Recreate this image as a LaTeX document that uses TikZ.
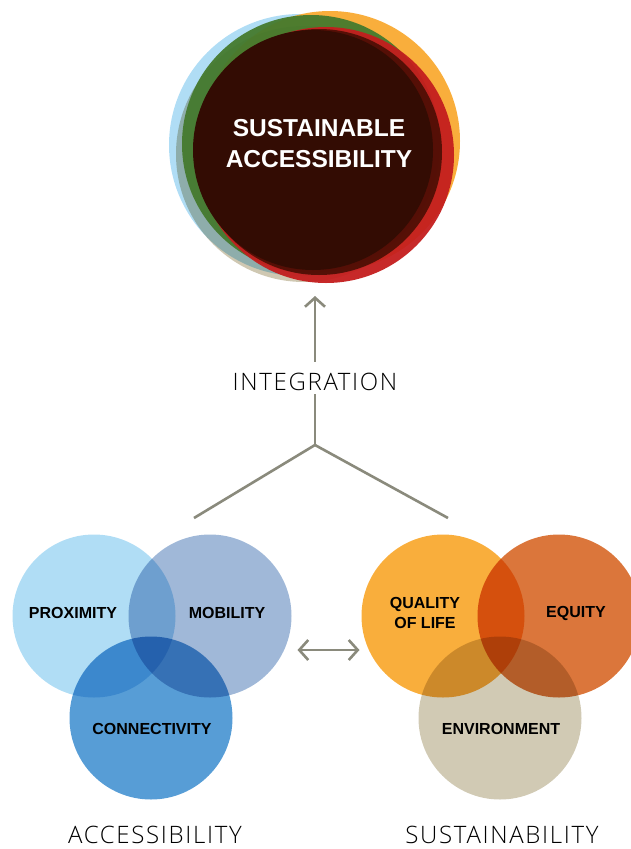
\documentclass[tikz,border=0pt]{standalone}
\usepackage{fontspec}
\setmainfont{Fira Sans}[UprightFont=* Light, BoldFont=* SemiBold]
\IfFontExistsTF{Open Sans Light}
  {\newfontfamily\lightf{Open Sans Light}[LetterSpace=7]}
  {\newfontfamily\lightf{Fira Sans Light}[LetterSpace=10]}
\newfontfamily\headf{Liberation Sans}[BoldFont=* Bold]
\usetikzlibrary{arrows.meta,calc}
\definecolor{cProx}{HTML}{B0DDF5}
\definecolor{cMob}{HTML}{A0B8D8}
\definecolor{cCon}{HTML}{579DD6}
\definecolor{cQol}{HTML}{F9AE3C}
\definecolor{cEq}{HTML}{DB763B}
\definecolor{cEnv}{HTML}{D1CAB4}
\definecolor{cLine}{HTML}{8A8A7C}
\definecolor{cDark}{HTML}{330C03}
\definecolor{cDark2}{HTML}{4A0E04}
\definecolor{cGreen}{HTML}{457A2E}
\definecolor{cRed}{HTML}{C41E1E}
\definecolor{cOrange}{HTML}{F9AE3C}
\definecolor{cBlue}{HTML}{B0DDF5}
\definecolor{cBeige}{HTML}{CFC8B2}
\tikzset{
  venn/.style={circle, minimum size=163pt, inner sep=0pt, outer sep=0pt},
  lbl/.style={font=\headf\bfseries\fontsize{16}{19.5}\selectfont, text=black, align=center},
  big/.style={font=\lightf\fontsize{24}{28}\selectfont, text=black},
  conn/.style={draw=cLine, line width=2.6pt},
  tip/.style={-{Straight Barb[length=9pt,width=20pt,line width=2.6pt]}},
}
\begin{document}
\begin{tikzpicture}[x=1pt,y=-1pt]
\useasboundingbox (0,0) rectangle (631,849);
% top cluster
\fill[cBlue] (300,145) circle (131);
\fill[cOrange] (330,141) circle (130);
\fill[cBeige, blend mode=multiply] (304,154) circle (128);
\fill[cGreen, opacity=0.95] (311,144) circle (129);
\fill[cRed, opacity=0.95] (326,155) circle (128);
\fill[cDark2, opacity=0.9] (319,152) circle (123);
\node[circle, fill=cDark, minimum size=240pt, inner sep=0pt] (sa) at (313,150) {};
\node[font=\headf\bfseries\fontsize{24.5}{31}\selectfont, text=white, align=center] (satxt) at (319,144) {SUSTAINABLE\\ACCESSIBILITY};
% integration
\node[big] (integ) at (315,382) {INTEGRATION};
\coordinate (top) at (315,296);
\coordinate (fork) at (315,445);
\coordinate (bl) at (194,518);
\coordinate (br) at (448,518);
\draw[conn, tip] (integ.north) ++(0,-8) -- (top);
\draw[conn] (fork) -- (integ.south);
\draw[conn, line join=miter] (bl) -- (fork) -- (br);
% accessibility venn
\begin{scope}[blend group=multiply]
\node[venn, fill=cProx] (prox) at (94,616) {};
\node[venn, fill=cMob] (mob) at (210,616) {};
\node[venn, fill=cCon] (con) at (151,718) {};
\end{scope}
\node[lbl] at (73,613) {PROXIMITY};
\node[lbl] at (227,613) {MOBILITY};
\node[lbl] at (152,729) {CONNECTIVITY};
% sustainability venn
\begin{scope}[blend group=multiply]
\node[venn, fill=cQol] (qol) at (443,616) {};
\node[venn, fill=cEq] (eq) at (559,616) {};
\node[venn, fill=cEnv] (env) at (500,718) {};
\end{scope}
\node[lbl] at (425,613) {QUALITY\\OF LIFE};
\node[lbl] at (576,613) {EQUITY};
\node[lbl] at (501,729) {ENVIRONMENT};
% double arrow
\coordinate (da) at ($(mob.east)+(6,34)$);
\coordinate (db) at ($(qol.west |- da)+(-2,0)$);
\draw[conn, {Straight Barb[length=9pt,width=20pt,line width=2.6pt]}-{Straight Barb[length=9pt,width=20pt,line width=2.6pt]}] (da) -- (db);
% bottom titles
\node[big, anchor=base, inner sep=0pt] (acc) at (155,843) {ACCESSIBILITY};
\node[big, anchor=base, inner sep=0pt] (sus) at (502,843) {SUSTAINABILITY};
\end{tikzpicture}
\end{document}
